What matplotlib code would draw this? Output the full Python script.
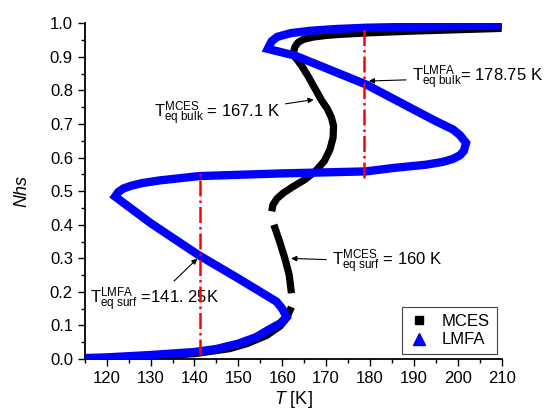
import matplotlib
matplotlib.use('Agg')
import matplotlib.pyplot as plt
from matplotlib.lines import Line2D
from matplotlib.ticker import MultipleLocator

plt.rcParams['font.family'] = ['Liberation Sans', 'DejaVu Sans']
plt.rcParams['mathtext.fontset'] = 'custom'
plt.rcParams['mathtext.rm'] = 'Liberation Sans'
plt.rcParams['mathtext.it'] = 'Liberation Sans:italic'

# LMFA curve (T in K, Nhs), read along the S-shaped path
lmfa_T = [115, 120, 130, 140, 145, 150, 154, 157, 159.5, 161.0, 160.0, 158.7,
          150, 140.9, 130, 121.9, 122.6, 123.8, 125.5, 128, 132, 141, 160,
          179.1, 185.2, 192.8, 196.5, 198.9, 200.5, 201.4, 201.9, 200.5,
          198.9, 195.1, 179.1, 162.9, 156.7, 157.6, 158.9, 162, 166.5, 172,
          179.1, 195, 210]
lmfa_N = [0.003, 0.005, 0.012, 0.021, 0.03, 0.046, 0.065, 0.088, 0.106, 0.125,
          0.15, 0.171, 0.24, 0.31, 0.405, 0.484, 0.497, 0.508, 0.516, 0.524,
          0.532, 0.545, 0.553, 0.559, 0.569, 0.579, 0.587, 0.596, 0.607,
          0.62, 0.644, 0.667, 0.684, 0.708, 0.818, 0.904, 0.924, 0.947,
          0.96, 0.971, 0.978, 0.983, 0.987, 0.991, 0.994]

# MCES curve, in pieces (the data has small gaps)
mces_T1 = [125, 140, 148, 152, 156.4, 159.5, 161, 162.1]
mces_N1 = [0.003, 0.016, 0.031, 0.046, 0.07, 0.098, 0.122, 0.155]
mces_T2 = [162.1, 161.6, 160.6, 159.4, 158.1]
mces_N2 = [0.196, 0.25, 0.30, 0.35, 0.40]
mces_T3 = [157.6, 157.9, 158.8, 160.3, 162.4, 165.2, 167.6, 169.6, 170.9,
           171.6, 171.7, 171.2, 170.3, 169.0, 167.5, 166.0, 164.6, 163.5, 162.6]
mces_N3 = [0.44, 0.46, 0.478, 0.495, 0.513, 0.535, 0.56, 0.59, 0.625,
           0.66, 0.695, 0.72, 0.745, 0.77, 0.805, 0.84, 0.87, 0.89, 0.905]
mces_T4 = [162.6, 162.9, 163.6, 164.8, 167, 170, 173, 180, 190, 200, 210]
mces_N4 = [0.915, 0.93, 0.943, 0.952, 0.959, 0.964, 0.967, 0.972, 0.977, 0.981, 0.985]

# equilibrium temperatures (dash-dot markers)
teq_surf = 141.25
teq_bulk = 178.75

fig = plt.figure(figsize=(5.47, 4.17), dpi=100)
ax = fig.add_axes([0.155, 0.139, 0.762, 0.805])

for t, n in [(mces_T1, mces_N1), (mces_T2, mces_N2), (mces_T3, mces_N3), (mces_T4, mces_N4)]:
    ax.plot(t, n, color='black', lw=5.2, solid_capstyle='butt', zorder=2)
ax.plot(lmfa_T, lmfa_N, color='blue', lw=6, solid_joinstyle='miter', zorder=3)

ax.plot([teq_surf, teq_surf], [0.012, 0.555], color='red', ls='-.', lw=1.8, zorder=4)
ax.plot([teq_bulk, teq_bulk], [0.54, 0.99], color='red', ls='-.', lw=1.8, zorder=4)

arr = dict(arrowstyle='-|>', color='black', lw=0.8, mutation_scale=8)
ax.annotate(r'$\mathregular{T^{MCES}_{eq\ bulk}}$ = 167.1 K', xy=(167.8, 0.774),
            xytext=(159.5, 0.73), ha='right', va='center', fontsize=12, arrowprops=arr)
ax.annotate(r'$\mathregular{T^{LMFA}_{eq\ bulk}}$= 178.75 K', xy=(179.1, 0.828),
            xytext=(189.5, 0.838), ha='left', va='center', fontsize=12, arrowprops=arr,
            annotation_clip=False)
ax.annotate(r'$\mathregular{T^{MCES}_{eq\ surf}}$ = 160 K', xy=(161.4, 0.30),
            xytext=(171.3, 0.29), ha='left', va='center', fontsize=12, arrowprops=arr)
ax.annotate(r'$\mathregular{T^{LMFA}_{eq\ surf}}$ =141. 25K', xy=(141.1, 0.305),
            xytext=(116.2, 0.176), ha='left', va='center', fontsize=12, arrowprops=arr)

ax.set_xlim(115, 210)
ax.set_ylim(0, 1.0)
ax.xaxis.set_major_locator(MultipleLocator(10))
ax.xaxis.set_minor_locator(MultipleLocator(5))
ax.yaxis.set_major_locator(MultipleLocator(0.1))
ax.yaxis.set_minor_locator(MultipleLocator(0.05))
ax.tick_params(which='major', direction='out', length=5, width=1, labelsize=12)
ax.tick_params(which='minor', direction='out', length=3, width=1)
ax.spines['top'].set_visible(False)
ax.spines['right'].set_visible(False)
ax.spines['left'].set_linewidth(1.3)
ax.spines['bottom'].set_linewidth(1.3)

ax.set_xlabel(r'$\mathit{T}$ [K]', fontsize=13, labelpad=2)
ax.set_ylabel('Nhs', fontsize=13, style='italic', labelpad=14)

handles = [Line2D([], [], ls='none', marker='s', color='black', markersize=6),
           Line2D([], [], ls='none', marker='^', color='blue', markersize=8)]
leg = ax.legend(handles, ['MCES', 'LMFA'], loc='lower right', fontsize=12,
                fancybox=False, framealpha=1, edgecolor='#444444',
                borderaxespad=0.3, handlelength=1.2, labelspacing=0.2)
leg.get_frame().set_linewidth(0.8)

fig.savefig('out.png', dpi=100)
